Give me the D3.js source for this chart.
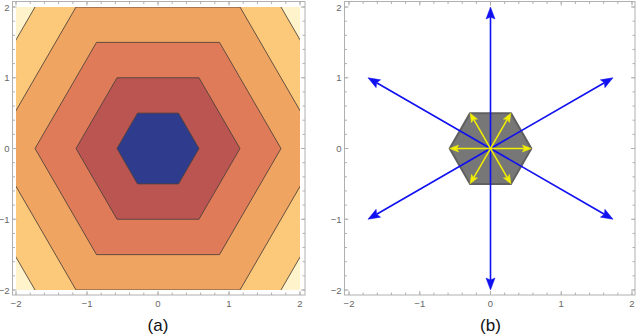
<!DOCTYPE html>
<html><head><meta charset="utf-8">
<script src="https://cdn.jsdelivr.net/npm/d3@7"></script>
<style>body{margin:0;background:#fff}svg{display:block}</style>
</head><body>
<svg id="c" width="640" height="336"></svg>
<script>
// ---- data ----
const contourLevels = [2.5, 2, 1.5, 1, 0.5];           // hexagonal apothems (outer to inner)
const bandColors = ["#fef3cb", "#fcc97b", "#f0a462", "#e07b59", "#ba5552", "#2f3c8e"]; // outer..inner
const majorTicks = [-2, -1, 0, 1, 2];
const tickLabels = ["\u22122", "\u22121", "0", "1", "2"];
const minorTicks = d3.range(-2, 2.001, 0.2).map(v => +v.toFixed(1));
const hexRadius = 0.57735;                                 // grey hexagon / yellow arrow length
const yellowAngles = [0, 60, 120, 180, 240, 300];
const blueLength = 2;
const blueAngles = [30, 90, 150, 210, 270, 330];
const captions = ["(a)", "(b)"];

const svg = d3.select("#c");

function makePanel(px0, px1, fx0, fx1) {
  const x = d3.scaleLinear().domain([-2, 2]).range([px0, px1]);
  const y = d3.scaleLinear().domain([-2, 2]).range([290, 7]);
  return {x, y, fx0, fx1, fy0: 1.5, fy1: 295};
}
const A = makePanel(16, 300, 12.5, 305);
const B = makePanel(349, 632, 344.5, 635);

function hexPts(apothemOrR, isApothem) {
  const R = isApothem ? apothemOrR * 2 / Math.sqrt(3) : apothemOrR;
  return d3.range(6).map(i => [R * Math.cos(i * Math.PI / 3), R * Math.sin(i * Math.PI / 3)]);
}

// ---- panel (a) ----
const defs = svg.append("defs");
defs.append("clipPath").attr("id", "clipA").append("rect")
  .attr("x", A.x(-2)).attr("y", A.y(2)).attr("width", A.x(2) - A.x(-2)).attr("height", A.y(-2) - A.y(2));
const ga = svg.append("g").attr("clip-path", "url(#clipA)");
ga.append("rect").attr("x", A.x(-2)).attr("y", A.y(2)).attr("width", A.x(2) - A.x(-2)).attr("height", A.y(-2) - A.y(2))
  .attr("fill", bandColors[0]);
const lineA = d3.line().x(d => A.x(d[0])).y(d => A.y(d[1])).curve(d3.curveLinearClosed);
contourLevels.forEach((lv, i) => {
  ga.append("path").attr("d", lineA(hexPts(lv, true)))
    .attr("fill", bandColors[i + 1])
    .attr("stroke", "#4a4038").attr("stroke-opacity", 0.85).attr("stroke-width", 1);
});

// ---- panel (b) ----
const lineB = d3.line().x(d => B.x(d[0])).y(d => B.y(d[1])).curve(d3.curveLinearClosed);
const gb = svg.append("g");
gb.append("path").attr("d", lineB(hexPts(hexRadius, false)))
  .attr("fill", "#777777").attr("stroke", "#606060").attr("stroke-width", 2).attr("stroke-linejoin", "round");

function arrow(g, P, ang, len, color, w, hl, hw) {
  const a = ang * Math.PI / 180;
  const x0 = P.x(0), y0 = P.y(0);
  const x1 = P.x(len * Math.cos(a)), y1 = P.y(len * Math.sin(a));
  const dx = x1 - x0, dy = y1 - y0, L = Math.hypot(dx, dy), ux = dx / L, uy = dy / L;
  const bx = x1 - ux * hl, by = y1 - uy * hl;
  g.append("line").attr("x1", x0).attr("y1", y0).attr("x2", bx + ux * 2).attr("y2", by + uy * 2)
    .attr("stroke", color).attr("stroke-width", w);
  g.append("path").attr("d", `M${x1},${y1}L${bx - uy * hw},${by + ux * hw}L${bx + ux * 2},${by + uy * 2}L${bx + uy * hw},${by - ux * hw}Z`)
    .attr("fill", color).attr("stroke", color).attr("stroke-width", 0.5);
}
blueAngles.forEach(a => arrow(gb, B, a, blueLength, "#1010f0", 1.6, 12, 4.5));
yellowAngles.forEach(a => arrow(gb, B, a, hexRadius, "#f2ee00", 1.5, 9, 3.5));

// ---- frames & ticks ----
function frame(P) {
  const g = svg.append("g");
  g.append("rect").attr("x", P.fx0).attr("y", P.fy0).attr("width", P.fx1 - P.fx0).attr("height", P.fy1 - P.fy0)
    .attr("fill", "none").attr("stroke", "#b0b0b0").attr("stroke-width", 1);
  const tk = (v, major) => {
    const L = major ? 4 : 2.5;
    const xv = P.x(v), yv = P.y(v);
    g.append("line").attr("x1", xv).attr("x2", xv).attr("y1", P.fy1).attr("y2", P.fy1 - L).attr("stroke", "#b0b0b0");
    g.append("line").attr("x1", xv).attr("x2", xv).attr("y1", P.fy0).attr("y2", P.fy0 + L).attr("stroke", "#b0b0b0");
    g.append("line").attr("y1", yv).attr("y2", yv).attr("x1", P.fx0).attr("x2", P.fx0 + L).attr("stroke", "#b0b0b0");
    g.append("line").attr("y1", yv).attr("y2", yv).attr("x1", P.fx1).attr("x2", P.fx1 - L).attr("stroke", "#b0b0b0");
  };
  minorTicks.forEach(v => tk(v, false));
  majorTicks.forEach(v => tk(v, true));
  majorTicks.forEach((v, i) => {
    g.append("text").attr("x", P.x(v)).attr("y", P.fy1 + 12).attr("text-anchor", "middle")
      .attr("font-family", "Liberation Sans, Arial, sans-serif").attr("font-size", 9.5).attr("fill", "#666")
      .text(tickLabels[i]);
    g.append("text").attr("x", P.fx0 - 3).attr("y", P.y(v) + 3.5).attr("text-anchor", "end")
      .attr("font-family", "Liberation Sans, Arial, sans-serif").attr("font-size", 9.5).attr("fill", "#666")
      .text(tickLabels[i]);
  });
}
frame(A); frame(B);

[A, B].forEach((P, i) => {
  svg.append("text").attr("x", P.x(0)).attr("y", 331).attr("text-anchor", "middle")
    .attr("font-family", "Liberation Sans, Arial, sans-serif").attr("font-size", 17).attr("fill", "#111")
    .text(captions[i]);
});
</script>
</body></html>
